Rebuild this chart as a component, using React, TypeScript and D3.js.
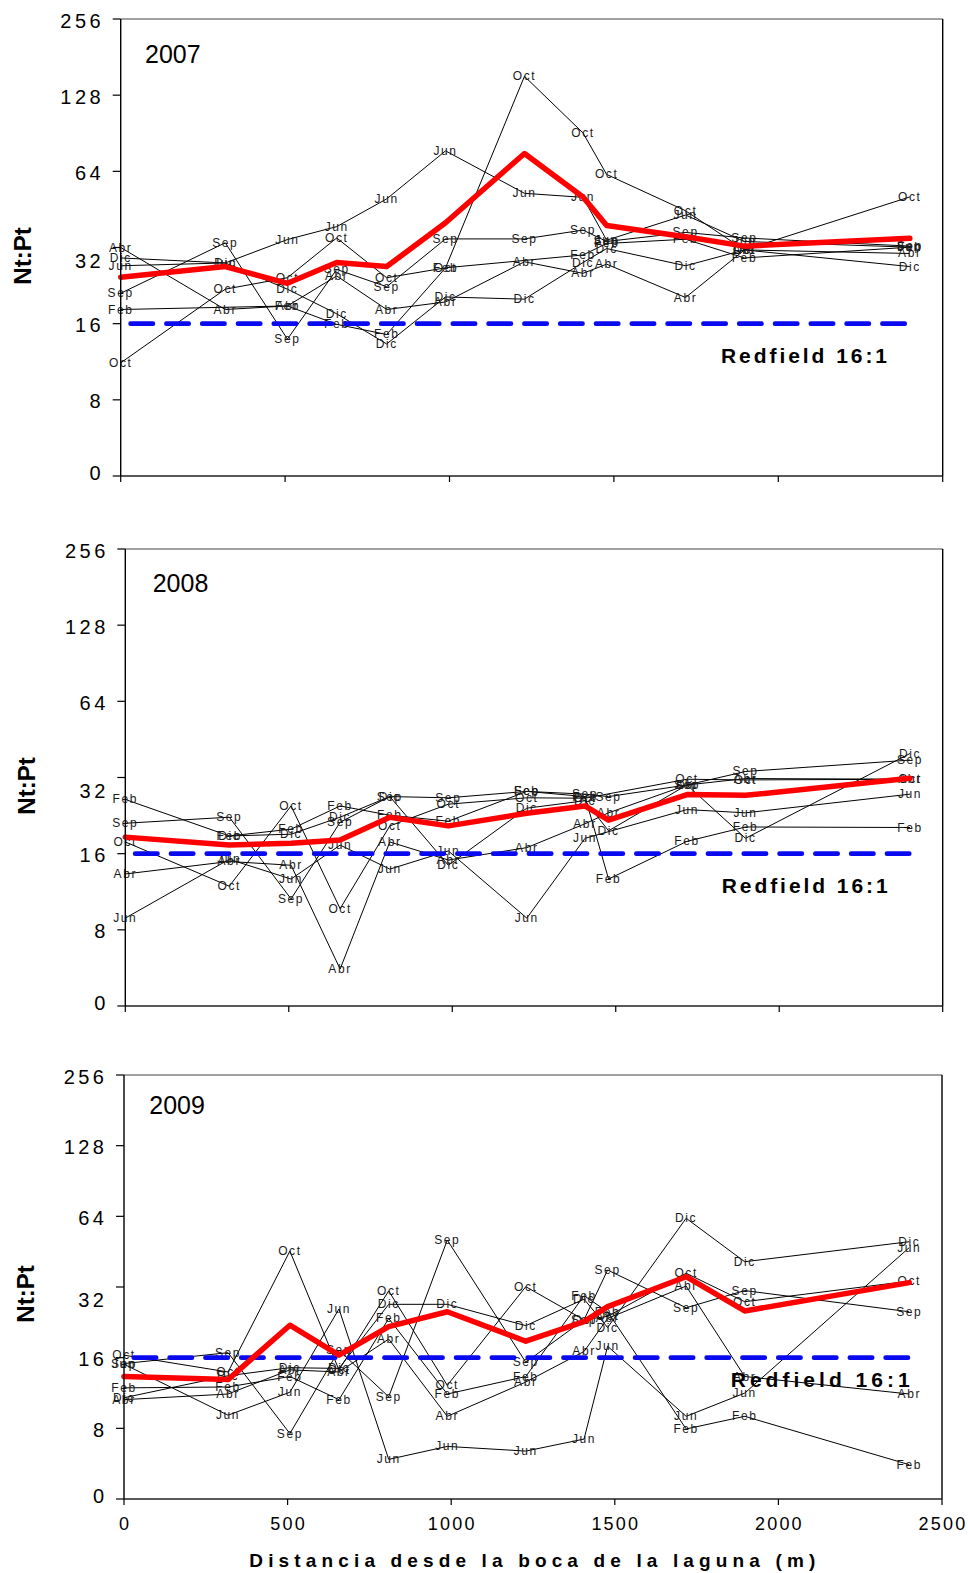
import React from "react";
import * as d3 from "d3";

// Sampling months and station distances from the lagoon mouth (m)
const MONTHS = ["Feb", "Abr", "Jun", "Sep", "Oct", "Dic"];
const STATIONS_M = [0, 318, 507, 657, 809, 988, 1228, 1406, 1478, 1718, 1897, 2400];

// Nt:Pt ratios, one row per month (MONTHS order), one column per station; null = not sampled
const RATIO_2007: (number | null)[][] = [
  [18.2, null, 18.8, 15.9, 14.5, 26.6, null, 29.9, 33.2, 34.5, 29.1, 32.1],
  [32.0, 18.2, 18.8, 24.7, 18.2, 19.5, 28.1, 25.3, 27.5, 20.3, 31.3, 30.3],
  [27.1, 27.8, 34.4, 38.7, 49.8, 77.1, 52.4, 50.5, 34.2, 43.0, 33.8, 32.1],
  [21.1, 33.4, 13.9, 26.2, 22.4, 34.6, 34.6, 37.5, 33.8, 36.7, 34.9, 32.4],
  [11.2, 21.9, 24.3, 34.9, 24.3, 26.6, 152.0, 90.8, 62.2, 44.7, 31.3, 50.7],
  [29.1, 27.8, 21.9, 17.5, 13.3, 20.4, 20.0, 27.9, 31.7, 27.1, 31.3, 26.9],
];
const MEAN_2007 = [24.4, 26.9, 23.1, 27.9, 26.9, 40.1, 75.3, 50.7, 39.1, 35.3, 32.4, 34.8];

const RATIO_2008: (number | null)[][] = [
  [26.2, 18.8, 20.0, 24.7, 22.7, 21.5, 28.2, 26.9, 12.7, 17.9, 20.4, 20.3],
  [13.3, 14.9, 14.4, 5.6, 17.8, 15.1, 16.9, 21.0, 23.2, 29.9, 31.7, 31.5],
  [8.9, 15.2, 12.7, 17.3, 13.9, 16.4, 8.9, 18.4, null, 23.9, 23.2, 27.5],
  [21.1, 22.3, 10.6, 21.3, 26.9, 26.6, 28.2, 27.5, 26.9, 29.9, 33.8, 37.5],
  [17.8, 11.9, 24.7, 9.7, 20.6, 25.1, 26.6, 26.5, null, 31.5, 31.3, 31.5],
  [null, 18.8, 19.1, 22.3, 26.9, 14.4, 24.2, 25.9, 19.7, 29.9, 18.4, 39.8],
];
const MEAN_2008 = [18.6, 17.3, 17.6, 18.1, 22.3, 20.6, 23.1, 24.7, 21.7, 27.4, 27.2, 31.8];

const RATIO_2009: (number | null)[][] = [
  [11.9, 12.0, 13.3, 10.6, 23.5, 11.2, 13.3, 29.4, 25.1, 7.95, 9.0, 5.6],
  [10.6, 11.2, 14.2, 13.9, 19.2, 9.0, 12.6, 17.0, 23.5, 32.3, 13.3, 11.2],
  [15.0, 9.1, 11.4, 25.8, 5.9, 6.7, 6.4, 7.2, 17.9, 9.0, 11.3, 47.1],
  [15.1, 16.8, 7.6, 17.2, 10.9, 50.7, 15.3, 23.2, 37.8, 26.1, 30.9, 25.1],
  [16.4, 13.9, 45.5, 14.2, 30.8, 12.2, 32.1, 23.2, 24.0, 36.6, 27.7, 33.9],
  [10.8, 13.4, 14.5, 14.4, 27.0, 27.0, 21.9, 28.4, 21.5, 62.8, 41.0, 49.9],
];
const MEAN_2009 = [13.3, 12.9, 22.0, 16.4, 21.7, 25.1, 18.8, 22.8, 26.4, 35.4, 25.3, 33.4];

// Axes
const Y_TICKS = [4, 8, 16, 32, 64, 128, 256];
const Y_TICK_LABELS = ["0", "8", "16", "32", "64", "128", "256"];
const X_TICKS = [0, 500, 1000, 1500, 2000, 2500];
const REDFIELD = 16;
const REDFIELD_SPAN = [30, 2400];

const FONT = "'Liberation Sans', Arial, Helvetica, sans-serif";

type PanelSpec = {
  year: string;
  ratios: (number | null)[][];
  mean: number[];
  left: number;
  right: number;
  top: number;
  bottom: number;
  yearX: number;
  yearY: number;
  titleX: number;
  titleY: number;
  redX: number;
  redY: number;
  redW: number;
  xLabels: boolean;
};

const PANELS: PanelSpec[] = [
  {
    year: "2007", ratios: RATIO_2007, mean: MEAN_2007,
    left: 120.7, right: 942.7, top: 19, bottom: 476,
    yearX: 145, yearY: 63.3, titleX: 22, titleY: 256,
    redX: 721, redY: 362.5, redW: 166, xLabels: false,
  },
  {
    year: "2008", ratios: RATIO_2008, mean: MEAN_2008,
    left: 125.3, right: 942.7, top: 549, bottom: 1006,
    yearX: 152.7, yearY: 592.3, titleX: 26.5, titleY: 786,
    redX: 721.7, redY: 892.5, redW: 166, xLabels: false,
  },
  {
    year: "2009", ratios: RATIO_2009, mean: MEAN_2009,
    left: 124, right: 942, top: 1075, bottom: 1499,
    yearX: 149.3, yearY: 1114.3, titleX: 25.5, titleY: 1294,
    redX: 730.7, redY: 1386.5, redW: 179, xLabels: true,
  },
];

// vertical nudges of a few tick labels relative to their ticks
const LABEL_NUDGE: Record<number, number> = { 4: -3, 32: 13 };

function Panel({ p }: { p: PanelSpec }) {
  const x = d3.scaleLinear().domain([0, 2500]).range([p.left, p.right]);
  const y = d3.scaleLog().base(2).domain([4, 256]).range([p.bottom, p.top]);
  const line = d3
    .line<[number, number]>()
    .x((d) => x(d[0]))
    .y((d) => y(d[1]));

  const points = (vals: (number | null)[]) =>
    STATIONS_M.map((s, i) => [s, vals[i]] as [number, number | null]).filter(
      (d) => d[1] != null
    ) as [number, number][];

  const meanPts = points(p.mean);

  return (
    <g>
      {/* month series */}
      {p.ratios.map((vals, mi) => (
        <path
          key={"l" + mi}
          d={line(points(vals)) || ""}
          fill="none"
          stroke="#000"
          strokeWidth={1}
        />
      ))}
      {p.ratios.map((vals, mi) =>
        points(vals).map((d, k) => (
          <text
            key={"t" + mi + "-" + k}
            x={x(d[0])}
            y={y(d[1])}
            textAnchor="middle"
            dominantBaseline="central"
            fontFamily={FONT}
            fontSize={12}
            letterSpacing={1.6}
            fill="#1a1a1a"
          >
            {MONTHS[mi]}
          </text>
        ))
      )}

      {/* Redfield reference */}
      <line
        x1={x(REDFIELD_SPAN[0])}
        x2={x(REDFIELD_SPAN[1])}
        y1={y(REDFIELD)}
        y2={y(REDFIELD)}
        stroke="#0a0af0"
        strokeWidth={4.6}
        strokeDasharray="22.4 13.4"
        strokeLinecap="round"
      />
      <text
        x={p.redX}
        y={p.redY}
        fontFamily={FONT}
        fontWeight="bold"
        fontSize={21}
        textLength={p.redW}
        lengthAdjust="spacing"
        fill="#000"
      >
        Redfield 16:1
      </text>

      {/* mean */}
      <path
        d={line(meanPts) || ""}
        fill="none"
        stroke="#ff0000"
        strokeWidth={5.5}
        strokeLinejoin="round"
        strokeLinecap="round"
      />

      {/* frame */}
      <line x1={p.left} x2={p.right} y1={p.top} y2={p.top} stroke="#444" strokeWidth={1.2} />
      <line x1={p.right} x2={p.right} y1={p.top} y2={p.bottom} stroke="#000" strokeWidth={1.4} />
      <line x1={p.left} x2={p.right} y1={p.bottom} y2={p.bottom} stroke="#222" strokeWidth={1.3} />
      <line x1={p.left} x2={p.left} y1={p.top} y2={p.bottom} stroke="#000" strokeWidth={1.4} />

      {/* y axis */}
      {Y_TICKS.map((t, i) => (
        <g key={"y" + t}>
          <line x1={p.left - 8} x2={p.left} y1={y(t)} y2={y(t)} stroke="#000" strokeWidth={1.2} />
          <text
            x={p.left - 20 + 3.5}
            y={y(t) + (LABEL_NUDGE[t] ?? 1.5)}
            textAnchor="end"
            dominantBaseline="central"
            fontFamily={FONT}
            fontSize={20}
            letterSpacing={3.5}
            fill="#000"
          >
            {Y_TICK_LABELS[i]}
          </text>
        </g>
      ))}

      {/* x axis */}
      {X_TICKS.map((t) => (
        <g key={"x" + t}>
          <line x1={x(t)} x2={x(t)} y1={p.bottom} y2={p.bottom + 6} stroke="#000" strokeWidth={1.2} />
          {p.xLabels && (
            <text
              x={x(t) + 1}
              y={p.bottom + 31}
              textAnchor="middle"
              fontFamily={FONT}
              fontSize={18}
              letterSpacing={2.2}
              fill="#000"
            >
              {String(t)}
            </text>
          )}
        </g>
      ))}

      <text x={p.yearX} y={p.yearY} fontFamily={FONT} fontSize={25} fill="#000">
        {p.year}
      </text>

      <text
        transform={`translate(${p.titleX},${p.titleY}) rotate(-90)`}
        textAnchor="middle"
        dy="0.36em"
        fontFamily={FONT}
        fontWeight="bold"
        fontSize={24}
        fill="#000"
      >
        Nt:Pt
      </text>
    </g>
  );
}

export default function App() {
  return (
    <svg
      width={968}
      height={1573}
      viewBox="0 0 968 1573"
      style={{ position: "absolute", left: 0, top: 0, background: "#fff" }}
    >
      <rect x={0} y={0} width={968} height={1573} fill="#fff" />
      {PANELS.map((p) => (
        <Panel key={p.year} p={p} />
      ))}
      <text
        x={249.3}
        y={1566.7}
        fontFamily={FONT}
        fontWeight="bold"
        fontSize={19}
        textLength={566}
        lengthAdjust="spacing"
        fill="#000"
      >
        Distancia desde la boca de la laguna (m)
      </text>
    </svg>
  );
}
